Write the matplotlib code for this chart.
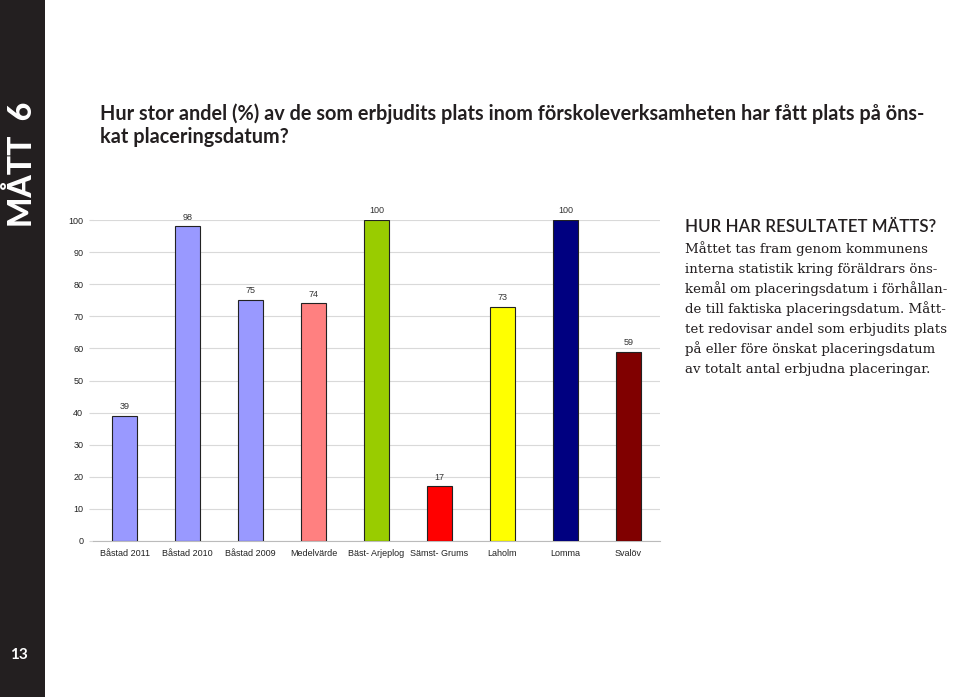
import matplotlib.pyplot as plt
from matplotlib.patches import Rectangle

categories = ["Båstad 2011", "Båstad 2010", "Båstad 2009", "Medelvärde", "Bäst- Arjeplog",
              "Sämst- Grums", "Laholm", "Lomma", "Svalöv"]
values = [39, 98, 75, 74, 100, 17, 73, 100, 59]
bar_colors = ["#9999ff", "#9999ff", "#9999ff", "#ff8080", "#99cc00",
              "#ff0000", "#ffff00", "#000080", "#800000"]
yticks = list(range(0, 101, 10))

title_lines = ["Hur stor andel (%) av de som erbjudits plats inom förskoleverksamheten har fått plats på öns-",
               "kat placeringsdatum?"]
heading = "HUR HAR RESULTATET MÄTTS?"
body_lines = [
    "Måttet tas fram genom kommunens",
    "interna statistik kring föräldrars öns-",
    "kemål om placeringsdatum i förhållan-",
    "de till faktiska placeringsdatum. Mått-",
    "tet redovisar andel som erbjudits plats",
    "på eller före önskat placeringsdatum",
    "av totalt antal erbjudna placeringar.",
]

W, H = 960, 697
fig = plt.figure(figsize=(9.6, 6.97), dpi=100)

# dark side strip
fig.add_artist(Rectangle((0, 0), 45 / W, 1, transform=fig.transFigure,
                         facecolor="#231f20", edgecolor="none"))
fig.text(22 / W, 1 - 164 / H, "MÅTT  6", rotation=90, color="white",
         family="Lato", fontweight="black", fontsize=23, ha="center", va="center")
fig.text(19 / W, 1 - 655 / H, "13", color="white", family="Lato",
         fontweight="bold", fontsize=11, ha="center", va="center")

for i, line in enumerate(title_lines):
    fig.text(100 / W, 1 - (120 + i * 23) / H, line, family="Lato", fontweight="bold",
             fontsize=14.3, color="#231f20", ha="left", va="baseline")

# chart
ax = fig.add_axes([93 / W, 1 - 541 / H, 567 / W, 321 / H])
x = range(len(categories))
ax.bar(x, values, width=0.4, color=bar_colors, edgecolor="#222222", linewidth=0.8, zorder=3)
for xi, v in zip(x, values):
    ax.text(xi, v + 1.5, str(v), ha="center", va="bottom", fontsize=6.5,
            family="Liberation Sans", color="#333333", clip_on=False)

ax.set_xlim(-0.5, len(categories) - 0.5)
ax.set_ylim(0, 100)
ax.set_yticks(yticks)
ax.set_xticks(list(x))
ax.set_xticklabels(categories)
ax.grid(axis="y", color="#d9d9d9", linewidth=0.8, zorder=0)
for lab in ax.get_xticklabels() + ax.get_yticklabels():
    lab.set_family("Liberation Sans")
    lab.set_fontsize(6.5)
    lab.set_color("#222222")
ax.tick_params(axis="both", length=3, color="#d9d9d9", pad=4)
ax.tick_params(axis="x", length=0, pad=6)
for side in ["top", "right", "left"]:
    ax.spines[side].set_visible(False)
ax.spines["bottom"].set_color("#bbbbbb")

# description text
fig.text(685 / W, 1 - 232 / H, heading, family="Lato", fontweight="semibold",
         fontsize=12.2, color="#231f20", ha="left", va="baseline")
for i, line in enumerate(body_lines):
    fig.text(685 / W, 1 - (253 + i * 20) / H, line, family="DejaVu Serif",
             fontsize=9.6, color="#231f20", ha="left", va="baseline")

plt.savefig("out.png", dpi=100)
